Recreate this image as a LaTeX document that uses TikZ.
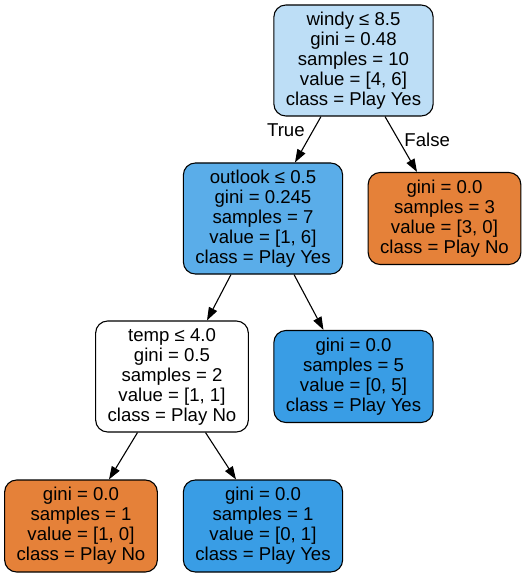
\documentclass[tikz,border=0pt]{standalone}
\usepackage{fontspec}
\setmainfont{Liberation Sans}
\usetikzlibrary{arrows.meta}

\definecolor{yesfull}{HTML}{399DE5}
\definecolor{yesmid}{HTML}{5AADE9}
\definecolor{yeslight}{HTML}{BDDEF6}
\definecolor{nofull}{HTML}{E58139}

\begin{document}
\begin{tikzpicture}[->,>={Triangle[length=13pt,width=9pt]},x=1pt,y=1pt,
                    node distance=158pt,line width=1.1pt,
                    font=\fontsize{18.6pt}{20pt}\selectfont]

  \tikzstyle{decision}=[rectangle,draw,rounded corners=12pt,align=center,
                        inner xsep=12pt,minimum height=111pt]
  \tikzstyle{leaf}=[decision,minimum height=92pt]
  \tikzstyle{branch}=[inner sep=0pt,pos=0.3]

  \useasboundingbox (0,0) rectangle (525,-577);

  \node[decision,fill=yeslight] (root) at (353.5,-60.5)
        {windy ≤ 8.5 \\ gini = 0.48 \\ samples = 10 \\ value = [4, 6] \\ class = Play Yes};
  \node[decision,fill=yesmid] (outlook) [below of=root,xshift=-90.5pt]
        {outlook ≤ 0.5 \\ gini = 0.245 \\ samples = 7 \\ value = [1, 6] \\ class = Play Yes};
  \node[leaf,fill=nofull] (windyno) [below of=root,xshift=91pt]
        {gini = 0.0 \\ samples = 3 \\ value = [3, 0] \\ class = Play No};

  \node[decision,fill=white] (temp) [below of=outlook,xshift=-91pt]
        {temp ≤ 4.0 \\ gini = 0.5 \\ samples = 2 \\ value = [1, 1] \\ class = Play No};
  \node[leaf,fill=yesfull] (outlookyes) [below of=outlook,xshift=90.5pt]
        {gini = 0.0 \\ samples = 5 \\ value = [0, 5] \\ class = Play Yes};

  \node[leaf,fill=nofull] (tempno) [node distance=149.5pt,below of=temp,xshift=-91pt]
        {gini = 0.0 \\ samples = 1 \\ value = [1, 0] \\ class = Play No};
  \node[leaf,fill=yesfull] (tempyes) [node distance=149.5pt,below of=temp,xshift=91pt]
        {gini = 0.0 \\ samples = 1 \\ value = [0, 1] \\ class = Play Yes};

  \path
  ([xshift=-32.5pt]root.south)   edge node[branch,anchor=east,xshift=-8pt] {True}
                                      ([xshift=32pt]outlook.north)
  ([xshift=31.5pt]root.south)    edge node[branch,pos=0.42,anchor=west,xshift=5.5pt] {False}
                                      ([xshift=-27.5pt]windyno.north)

  ([xshift=-32pt]outlook.south)  edge ([xshift=35pt]temp.north)
  ([xshift=31pt]outlook.south)   edge ([xshift=-30pt]outlookyes.north)

  ([xshift=-34.5pt]temp.south)   edge ([xshift=28pt]tempno.north)
  ([xshift=33.5pt]temp.south)    edge ([xshift=-27pt]tempyes.north)
  ;
\end{tikzpicture}
\end{document}
